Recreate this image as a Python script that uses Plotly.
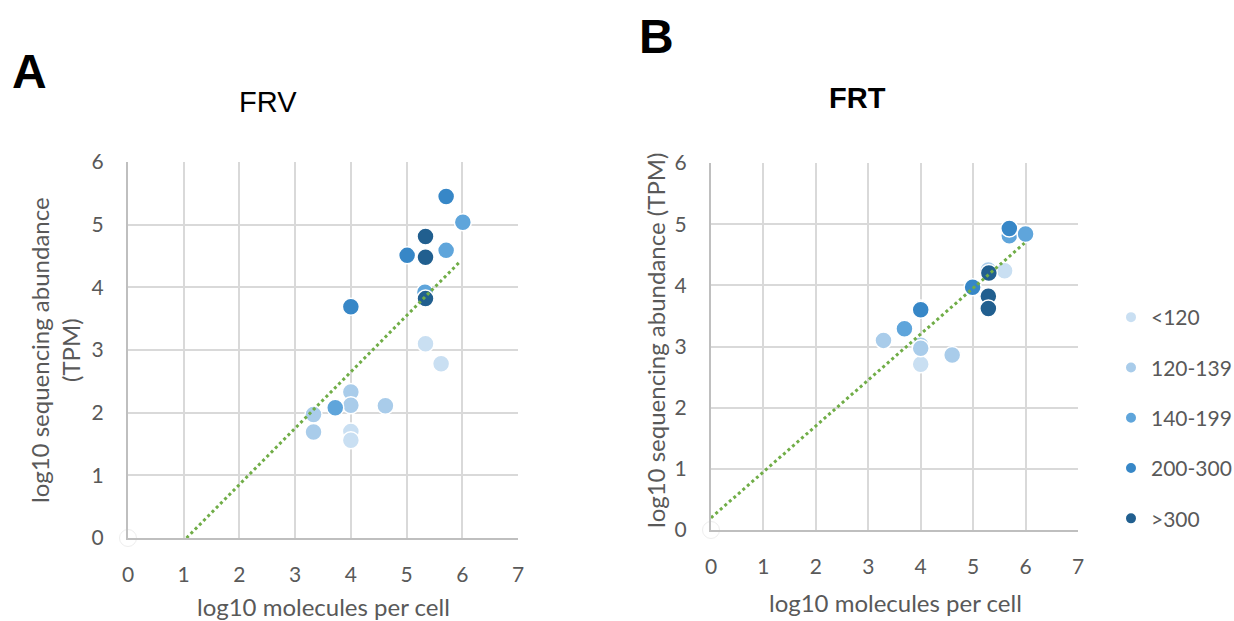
import plotly.graph_objects as go

categories = ["<120", "120-139", "140-199", "200-300", ">300"]
colors = ["#C9DFF2", "#A9CCEA", "#5FA5DB", "#3787C7", "#215F8F"]

# Panel A (FRV)
a_x = {
    "<120": [5.34, 5.62, 4.0, 4.0],
    "120-139": [4.0, 4.0, 4.62, 3.33, 3.33],
    "140-199": [6.01, 5.71, 5.33, 3.72],
    "200-300": [5.71, 5.01, 4.0],
    ">300": [5.34, 5.34, 5.34],
}
a_y = {
    "<120": [3.10, 2.78, 1.70, 1.56],
    "120-139": [2.33, 2.12, 2.11, 1.97, 1.69],
    "140-199": [5.04, 4.59, 3.92, 2.08],
    "200-300": [5.45, 4.51, 3.69],
    ">300": [4.81, 4.48, 3.82],
}
# Panel B (FRT)
b_x = {
    "<120": [5.60, 4.0],
    "120-139": [5.29, 3.29, 4.0, 4.0, 4.6, 4.0],
    "140-199": [5.69, 6.0, 3.69],
    "200-300": [5.69, 4.99, 4.0],
    ">300": [5.30, 5.29, 5.29],
}
b_y = {
    "<120": [4.24, 2.71],
    "120-139": [4.25, 3.10, 3.02, 2.97, 2.86, 3.62],
    "140-199": [4.81, 4.84, 3.29],
    "200-300": [4.93, 3.97, 3.60],
    ">300": [4.20, 3.82, 3.62],
}
origin_x = [0]
origin_y = [0]
trend_a_x = [1.05, 5.97]
trend_a_y = [0.0, 4.42]
trend_b_x = [0.0, 5.98]
trend_b_y = [0.20, 4.69]

x_ticks = [0, 1, 2, 3, 4, 5, 6, 7]
y_ticks = [0, 1, 2, 3, 4, 5, 6]

GRAY = "#595959"
GRID = "#D9D9D9"
SANS = "Lato, 'Open Sans', sans-serif"
TICKFONT = dict(family=SANS, size=21, color=GRAY)

fig = go.Figure()

for panel, (xs, ys, xa, ya) in enumerate([(a_x, a_y, "x", "y"), (b_x, b_y, "x2", "y2")]):
    fig.add_trace(go.Scatter(
        x=origin_x, y=origin_y, xaxis=xa, yaxis=ya, mode="markers",
        marker=dict(size=17, color="white", line=dict(color="#EEEEEE", width=1)),
        showlegend=False, cliponaxis=False, hoverinfo="skip"))
    for cat, col in zip(categories, colors):
        fig.add_trace(go.Scatter(
            x=xs[cat], y=ys[cat], xaxis=xa, yaxis=ya, mode="markers", name=cat,
            legendgroup=cat, showlegend=(panel == 0),
            marker=dict(size=17, color=col, line=dict(color="white", width=1.5)),
            cliponaxis=False))

fig.add_trace(go.Scatter(x=trend_a_x, y=trend_a_y, xaxis="x", yaxis="y", mode="lines",
                         line=dict(color="#70AD47", width=3, dash="dot"), showlegend=False))
fig.add_trace(go.Scatter(x=trend_b_x, y=trend_b_y, xaxis="x2", yaxis="y2", mode="lines",
                         line=dict(color="#70AD47", width=3, dash="dot"), showlegend=False))

W, H = 1234, 621


def xd(l, r):
    return [l / W, r / W]


def yd(t, b):
    return [(H - b) / H, (H - t) / H]


axis_common = dict(showgrid=True, gridcolor=GRID, gridwidth=2, showline=True, linecolor="#BFBFBF",
                   linewidth=2, zeroline=False, tickfont=TICKFONT, ticks="", fixedrange=True,
                   automargin=False)

fig.update_layout(
    width=W, height=H,
    margin=dict(l=0, r=0, t=0, b=0, autoexpand=False),
    paper_bgcolor="white", plot_bgcolor="white",
    showlegend=True,
    xaxis=dict(domain=xd(128, 518), range=[0, 7], tickvals=x_ticks, anchor="y",
               ticklabelstandoff=17, **axis_common),
    yaxis=dict(domain=yd(162, 538), range=[0, 6], tickvals=y_ticks, anchor="x",
               ticklabelstandoff=18, **axis_common),
    xaxis2=dict(domain=xd(711, 1078), range=[0, 7], tickvals=x_ticks, anchor="y2",
                ticklabelstandoff=17, **axis_common),
    yaxis2=dict(domain=yd(163, 530), range=[0, 6], tickvals=y_ticks, anchor="x2",
                ticklabelstandoff=18, **axis_common),
    legend=dict(x=1111 / W, y=(H - 297) / H, xanchor="left", yanchor="top",
                font=dict(family=SANS, size=21, color=GRAY),
                tracegroupgap=20, itemsizing="constant", bgcolor="rgba(0,0,0,0)"),
)

for text, cx, cy in [("<b>A</b>", 29, 72), ("<b>B</b>", 656, 36)]:
    fig.add_annotation(text=text, x=cx / W, y=(H - cy) / H, xref="paper", yref="paper",
                       xanchor="center", yanchor="middle", showarrow=False,
                       font=dict(size=48, family="Liberation Sans, Arial", color="black"))

fig.add_annotation(text="FRV", x=268 / W, y=(H - 102) / H, xref="paper", yref="paper",
                   showarrow=False, xanchor="center", yanchor="middle",
                   font=dict(size=29, family="Liberation Sans, Arial", color="black"))
fig.add_annotation(text="<b>FRT</b>", x=857 / W, y=(H - 98) / H, xref="paper", yref="paper",
                   showarrow=False, xanchor="center", yanchor="middle",
                   font=dict(size=29, family="Liberation Sans, Arial", color="black"))

AXFONT = dict(family=SANS, size=24, color=GRAY)
fig.add_annotation(text="log10 molecules per cell", x=323 / W, y=(H - 606) / H, xref="paper", yref="paper",
                   showarrow=False, xanchor="center", yanchor="middle", font=AXFONT)
fig.add_annotation(text="log10 molecules per cell", x=895 / W, y=(H - 602) / H, xref="paper", yref="paper",
                   showarrow=False, xanchor="center", yanchor="middle", font=AXFONT)
fig.add_annotation(text="log10 sequencing abundance<br>(TPM)", x=55 / W, y=(H - 350) / H,
                   xref="paper", yref="paper", showarrow=False, textangle=-90,
                   xanchor="center", yanchor="middle", font=AXFONT)
fig.add_annotation(text="log10 sequencing abundance (TPM)", x=655 / W, y=(H - 340) / H,
                   xref="paper", yref="paper", showarrow=False, textangle=-90,
                   xanchor="center", yanchor="middle", font=AXFONT)

fig.write_html("out.html")
